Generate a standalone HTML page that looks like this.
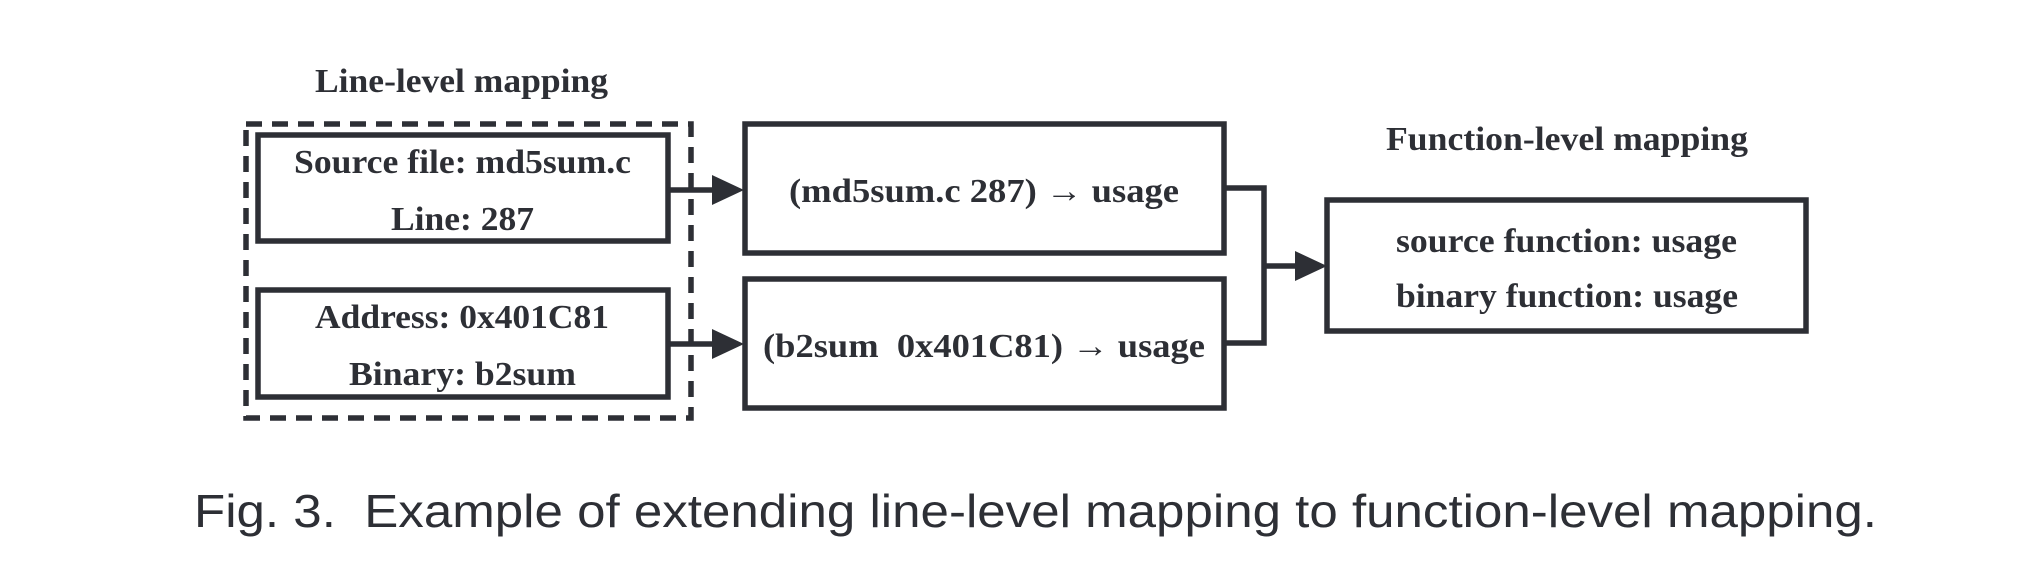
<!DOCTYPE html>
<html><head><meta charset="utf-8"><style>
html,body{margin:0;padding:0;background:#fff;}
svg{display:block;}
.t{font-family:"Liberation Serif",serif;font-weight:bold;font-size:34px;fill:#2d2f35;}
.c{font-family:"Liberation Sans",sans-serif;font-size:46px;fill:#2d2f35;}
</style></head><body>
<svg width="2028" height="580" viewBox="0 0 2028 580">
<g stroke="#2d2f35" stroke-width="5.5" fill="none">
<rect x="246" y="124" width="445" height="294" stroke-dasharray="16,10"/>
<rect x="258" y="135" width="410" height="106"/>
<rect x="258" y="290" width="410" height="107"/>
<rect x="745" y="124" width="479" height="129"/>
<rect x="745" y="279" width="479" height="129"/>
<rect x="1327" y="200" width="479" height="131"/>
<line x1="668" y1="190" x2="715" y2="190"/>
<line x1="668" y1="344" x2="715" y2="344"/>
<polyline points="1224,188 1264,188 1264,343 1224,343"/>
<line x1="1264" y1="266" x2="1298" y2="266"/>
</g>
<g fill="#2d2f35">
<polygon points="712,175 744,190 712,205"/>
<polygon points="712,329 744,344 712,359"/>
<polygon points="1295,251 1327,266 1295,281"/>
</g>
<text class="t" x="315" y="92" textLength="293" lengthAdjust="spacingAndGlyphs">Line-level mapping</text>
<text class="t" x="294" y="173" textLength="337" lengthAdjust="spacingAndGlyphs">Source file: md5sum.c</text>
<text class="t" x="391" y="230" textLength="143" lengthAdjust="spacingAndGlyphs">Line: 287</text>
<text class="t" x="315" y="328" textLength="294" lengthAdjust="spacingAndGlyphs">Address: 0x401C81</text>
<text class="t" x="349" y="385" textLength="227" lengthAdjust="spacingAndGlyphs">Binary: b2sum</text>
<text class="t" x="789" y="202" textLength="390" lengthAdjust="spacingAndGlyphs">(md5sum.c 287) → usage</text>
<text class="t" xml:space="preserve" x="763" y="357" textLength="442" lengthAdjust="spacingAndGlyphs">(b2sum  0x401C81) → usage</text>
<text class="t" x="1386" y="150" textLength="362" lengthAdjust="spacingAndGlyphs">Function-level mapping</text>
<text class="t" x="1396" y="252" textLength="341" lengthAdjust="spacingAndGlyphs">source function: usage</text>
<text class="t" x="1396" y="307" textLength="342" lengthAdjust="spacingAndGlyphs">binary function: usage</text>
<text class="c" xml:space="preserve" x="194" y="527" textLength="1683" lengthAdjust="spacingAndGlyphs">Fig. 3.  Example of extending line-level mapping to function-level mapping.</text>
</svg>
</body></html>
